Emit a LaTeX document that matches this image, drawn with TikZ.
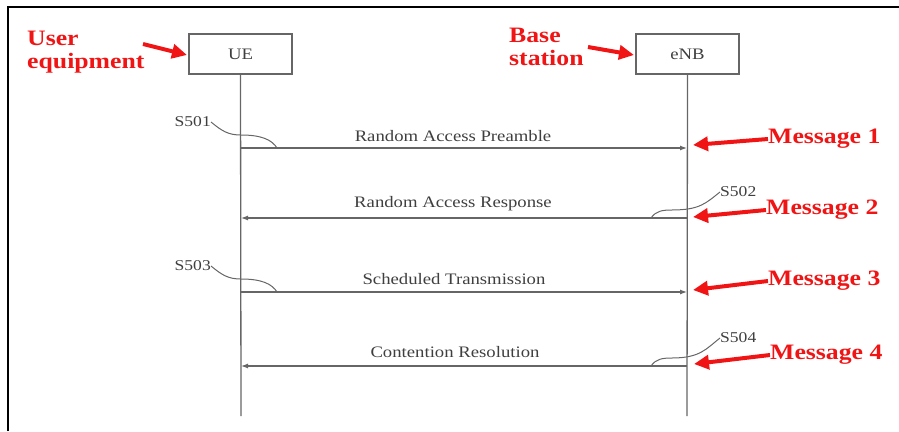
\documentclass[tikz,border=0pt]{standalone}
\usepackage{fontspec}
\setmainfont{Liberation Serif}
\newfontfamily\diafont[FakeStretch=1.17]{Liberation Serif}
\usetikzlibrary{arrows.meta}
\definecolor{inkgray}{HTML}{3F3F3F}
\definecolor{linegray}{HTML}{666666}
\definecolor{alertred}{HTML}{F01414}
\begin{document}
\begin{tikzpicture}[x=1pt,y=-1pt,
  actor/.style={draw=linegray, line width=1.3pt, minimum width=103pt, minimum height=40pt, inner sep=0pt, font=\diafont\fontsize{16}{18}\selectfont, text=inkgray},
  lifeline/.style={draw=linegray, line width=1.3pt},
  msg/.style={draw=linegray, line width=1.2pt, -{Latex[length=7pt,width=5pt]}},
  msglabel/.style={font=\diafont\fontsize{16}{18}\selectfont, text=inkgray, inner sep=0pt},
  steplabel/.style={font=\diafont\fontsize{15}{17}\selectfont, text=inkgray, inner sep=0pt},
  hook/.style={draw=linegray, line width=1pt},
  callout/.style={font=\diafont\bfseries\fontsize{22}{23}\selectfont, text=alertred, inner sep=0pt, align=left},
  redarrow/.style={draw=alertred, line width=4pt, -{Triangle[length=15pt,width=14pt]}},
]
\useasboundingbox (0,0) rectangle (899,431);
\draw[line width=2.5pt] (8,431) -- (8,7) -- (899,7);

% actors
\node[actor] (ue) at (240.5,54) {UE};
\node[actor] (enb) at (687.5,54) {eNB};
\coordinate (ueend) at (241,416);
\coordinate (enbend) at (687,416);
\draw[lifeline] (ue.south) -- (ueend);
\draw[lifeline] (enb.south) -- (enbend);

% callouts for actors
\node[callout, anchor=west] (uecall) at (27,52) {User\\equipment};
\node[callout, anchor=west] (enbcall) at (509,47) {Base\\station};
\coordinate (uetail) at (143,44);
\coordinate (uetip) at (187,55);
\coordinate (enbtail) at (588,47);
\coordinate (enbtip) at (634,55);
\draw[redarrow] (uetail) -- (uetip);
\draw[redarrow] (enbtail) -- (enbtip);

% message end points
\coordinate (u1) at (241,148); \coordinate (b1) at (687,148);
\coordinate (u2) at (241,218); \coordinate (b2) at (687,218);
\coordinate (u3) at (241,292); \coordinate (b3) at (687,292);
\coordinate (u4) at (241,366); \coordinate (b4) at (687,366);

\draw[msg] (u1) -- (b1);
\draw[msg] (b2) -- (u2);
\draw[msg] (u3) -- (b3);
\draw[msg] (b4) -- (u4);

\node[msglabel] (l1) at (453,136) {Random Access Preamble};
\node[msglabel] (l2) at (453,204) {Random Access Response};
\node[msglabel] (l3) at (454,279) {Scheduled Transmission};
\node[msglabel] (l4) at (455,352) {Contention Resolution};

% step labels and hooks
\node[steplabel, anchor=east] (s501) at (211,122) {S501};
\node[steplabel, anchor=east] (s503) at (211,266) {S503};
\node[steplabel, anchor=west] (s502) at (720,192) {S502};
\node[steplabel, anchor=west] (s504) at (720,338) {S504};

\draw[hook] (s501.east) .. controls (222,131) and (228,135) .. (241,135)
  .. controls (262,135) and (272,140) .. (277,148);
\draw[hook] (s503.east) .. controls (222,275) and (228,279) .. (241,279)
  .. controls (262,279) and (272,284) .. (277,292);
\draw[hook] (651,218) .. controls (656,211) and (662,210) .. (672,210)
  .. controls (700,210) and (706,203) .. (s502.west);
\draw[hook] (651,366) .. controls (656,359) and (662,358) .. (672,358)
  .. controls (700,358) and (706,349) .. (s504.west);

% message callouts
\node[callout, anchor=west] (m1) at (768,139) {Message 1};
\node[callout, anchor=west] (m2) at (766,210) {Message 2};
\node[callout, anchor=west] (m3) at (768,281) {Message 3};
\node[callout, anchor=west] (m4) at (770,355) {Message 4};
\coordinate (t1) at (693,145);
\coordinate (t2) at (693,217);
\coordinate (t3) at (693,290);
\coordinate (t4) at (694,364);
\draw[redarrow] (m1.west) -- (t1);
\draw[redarrow] (m2.west) -- (t2);
\draw[redarrow] (m3.west) -- (t3);
\draw[redarrow] (m4.west) -- (t4);
\end{tikzpicture}
\end{document}
